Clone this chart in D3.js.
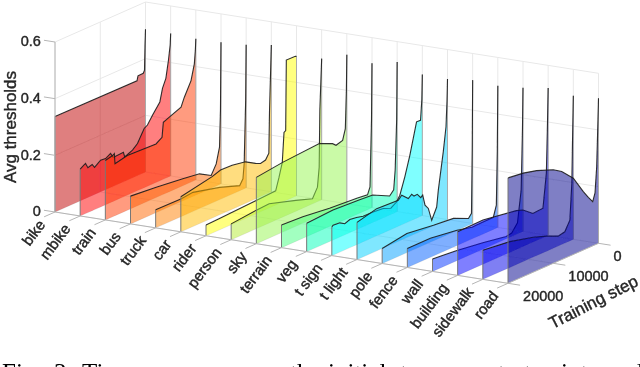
<!DOCTYPE html>
<html>
<head>
<meta charset="utf-8">
<script src="https://cdn.jsdelivr.net/npm/d3@7"></script>
<style>
    html, body { margin: 0; padding: 0; background: #fff; overflow: hidden; }
    svg { display: block; }
    text { font-family: "Liberation Sans", Arial, sans-serif; fill: #262626; stroke: #262626; stroke-width: 0.4px; }
    .caption { font-family: "Liberation Serif", serif; font-size: 25px; fill: #000; stroke: none; }
</style>
</head>
<body>
<div id="app"></div>
<script>
const categories = ["bike", "mbike", "train", "bus", "truck", "car", "rider", "person", "sky", "terrain",
    "veg", "t sign", "t light", "pole", "fence", "wall", "building", "sidewalk", "road"];
const colors = ["#bf0000", "#ff0008", "#ff3700", "#ff6600", "#ff8000", "#ffbb00", "#ffff00", "#b4eb32", "#96f550",
    "#46ff82", "#00ffb9", "#00ffff", "#00d0ff", "#00a0ff", "#0060ff", "#0030ff", "#0000ff", "#0000e8", "#00008c"];
const valueTicks = [0, 0.2, 0.4, 0.6];
const stepTicks = [0, 10000, 20000];

// [training step, avg threshold]
const bike = [[20000, .337], [1880, .335], [1660, .351], [490, .352], [220, .361], [110, .45], [0, .504]];
const mbike = [[20000, .165], [18820, .177], [18290, .158], [17350, .163], [16820, .149], [15490, .165], [14380, .163],
    [13270, .173], [12730, .156], [12380, .155], [10440, .157], [10160, .139], [8440, .151], [7330, .166], [5860, .209],
    [5130, .216], [4020, .243], [2390, .278], [1810, .322], [1060, .352], [490, .412], [110, .463], [0, .503]];
const train = [[20000, .21], [18390, .216], [18010, .22], [17860, .183], [15730, .191], [15140, .193], [8800, .189],
    [7470, .203], [7180, .254], [5860, .263], [3270, .28], [2540, .31], [1060, .358], [330, .412], [100, .46], [0, .498]];
const bus = [[20000, .098], [14320, .089], [8440, .078], [4750, .069], [2170, .045], [1060, .078], [330, .132], [120, .26], [0, .5]];
const truck = [[20000, .064], [14320, .063], [11760, .067], [5860, .043], [1440, .018], [710, .037], [440, .089], [110, .31], [0, .505]];
const car = [[20000, .124], [13080, .146], [11230, .156], [8660, .155], [5700, .146], [3490, .125], [2390, .117], [1280, .121],
    [550, .14], [400, .29], [0, .518]];
const rider = [[20000, .038], [17130, .04], [9020, .046], [4600, .05], [3870, .092], [3140, .14], [2760, .243], [2390, .247],
    [2250, .495], [260, .494], [0, .492]];
const person = [[20000, .056], [14540, .065], [11600, .068], [5700, .038], [2030, .018], [930, .051], [550, .119], [400, .32], [0, .498]];
const sky = [[20000, .234], [14190, .246], [6080, .255], [3140, .234], [2390, .223], [930, .23], [330, .267], [100, .4], [0, .526]];
const terrain = [[20000, .08], [15290, .076], [9390, .064], [3200, .057], [990, .052], [440, .076], [110, .31], [0, .51]];
const veg = [[20000, .1], [14190, .106], [8290, .1], [5410, .097], [1660, .067], [770, .082], [440, .15], [110, .326], [0, .528]];
const tSign = [[20000, .101], [19710, .105], [18230, .103], [17130, .092], [16020, .099], [14540, .096], [13080, .09], [10870, .089],
    [8660, .086], [6960, .075], [5700, .088], [4970, .107], [3870, .164], [2760, .232], [1280, .34], [400, .339], [110, .41], [0, .498]];
const tLight = [[20000, .131], [15650, .149], [10870, .145], [10120, .157], [8660, .135], [7910, .145], [7400, .135], [6670, .136],
    [5920, .119], [5480, .125], [4970, .086], [4240, .069], [3490, .022], [2390, .061], [2030, .118], [930, .246], [330, .33], [110, .42], [0, .496]];
const pole = [[20000, .053], [14540, .067], [8660, .055], [4240, .048], [930, .024], [260, .038], [100, .26], [0, .506]];
const fence = [[20000, .067], [14920, .067], [9020, .054], [5700, .041], [3870, .042], [990, .043], [330, .081], [120, .27], [0, .5]];
const wall = [[20000, .044], [14760, .036], [8880, .023], [3710, .008], [2500, .012], [1220, .039], [400, .15], [120, .36], [0, .507]];
const building = [[20000, .154], [14410, .156], [7030, .137], [5570, .129], [3360, .101], [1150, .104], [400, .222], [180, .375], [0, .52]];
const sidewalk = [[20000, .103], [14030, .091], [8880, .07], [5900, .053], [3360, .035], [1880, .04], [770, .073], [330, .2], [180, .35], [0, .507]];
const road = [[20000, .372], [16620, .365], [13660, .353], [9990, .33], [8130, .311], [5570, .269], [3360, .206], [2250, .178],
    [1280, .156], [770, .183], [400, .273], [180, .4], [0, .512]];
const seriesList = [bike, mbike, train, bus, truck, car, rider, person, sky, terrain, veg, tSign, tLight, pole, fence, wall, building, sidewalk, road];

const captionWords = ["Fig.", "3.", "Time", "the", "initial", "to", "start", "point", "and"];
const captionX = [2, 54, 82, 290, 328, 400, 488, 536, 607];

const width = 640;
const height = 367;
const lastCat = categories.length - 1;

const root = d3.select("#app").append("svg")
    .attr("width", width)
    .attr("height", height);

// the reference is a soft upscaled bitmap, a little blur gets closer to it
root.append("defs").append("filter")
    .attr("id", "soft")
    .attr("x", 0).attr("y", 0).attr("width", 1).attr("height", 1)
    .attr("filterUnits", "userSpaceOnUse")
    .attr("width", width).attr("height", height)
    .append("feGaussianBlur")
    .attr("stdDeviation", 0.45);
const svg = root.append("g").attr("filter", "url(#soft)");

// oblique projection: category and step run across the floor, value goes straight up
const catX = d3.scaleLinear().domain([0, lastCat]).range([55, 508]);
const catY = d3.scaleLinear().domain([0, lastCat]).range([212, 283.3]);
const stepX = d3.scaleLinear().domain([0, 20000]).range([90.5, 0]);
const stepY = d3.scaleLinear().domain([0, 20000]).range([-40, 0]);
const valueY = d3.scaleLinear().domain([0, 0.6]).range([0, -170]);

function px(cat, step) {
    return catX(cat) + stepX(step);
}

function py(cat, step, value) {
    return catY(cat) + stepY(step) + valueY(value);
}

function seg(g, a, b, color, w) {
    g.append("line")
        .attr("x1", px(a[0], a[1])).attr("y1", py(a[0], a[1], a[2]))
        .attr("x2", px(b[0], b[1])).attr("y2", py(b[0], b[1], b[2]))
        .attr("stroke", color)
        .attr("stroke-width", w);
}

addGrid();
addWalls();
addAxes();
addCaption();

function addGrid() {
    const g = svg.append("g");
    const gridColor = "#e8e8e8";
    valueTicks.slice(1).forEach(v => {
        seg(g, [0, 20000, v], [0, 0, v], gridColor, 1);
        seg(g, [0, 0, v], [lastCat, 0, v], gridColor, 1);
    });
    categories.forEach((c, i) => {
        seg(g, [i, 0, 0], [i, 0, 0.6], gridColor, 1);
        seg(g, [i, 20000, 0], [i, 0, 0], gridColor, 1);
    });
    stepTicks.forEach(s => {
        seg(g, [0, s, 0], [0, s, 0.6], gridColor, 1);
        seg(g, [0, s, 0], [lastCat, s, 0], gridColor, 1);
    });
}

function addWalls() {
    const g = svg.append("g");
    seriesList.forEach((rows, i) => {
        const area = d3.area()
            .x(d => px(i, d[0]))
            .y0(d => py(i, d[0], 0))
            .y1(d => py(i, d[0], d[1]));
        const line = d3.line()
            .x(d => px(i, d[0]))
            .y(d => py(i, d[0], d[1]));
        g.append("path")
            .attr("d", area(rows))
            .attr("fill", colors[i])
            .attr("fill-opacity", 0.5);
        seg(g, [i, 20000, 0], [i, 20000, rows[0][1]], "#777", 1);
        seg(g, [i, 0, 0], [i, 0, rows[rows.length - 1][1]], "#aaa", 1);
        g.append("path")
            .attr("d", line(rows))
            .attr("fill", "none")
            .attr("stroke", "#1c1c1c")
            .attr("stroke-width", 1.1)
            .attr("stroke-opacity", 0.9);
    });
}

function addAxes() {
    const g = svg.append("g");
    const axisColor = "#b5b5b5";
    seg(g, [0, 20000, 0], [0, 20000, 0.6], axisColor, 1);
    seg(g, [0, 20000, 0], [lastCat, 20000, 0], axisColor, 1);
    seg(g, [lastCat, 20000, 0], [lastCat, 0, 0], axisColor, 1);

    valueTicks.forEach(v => {
        seg(g, [-0.44, 20000, v], [0, 20000, v], axisColor, 1);
        g.append("text")
            .attr("x", px(-0.44, 20000) - 3)
            .attr("y", py(-0.44, 20000, v) + 6)
            .attr("text-anchor", "end")
            .attr("font-size", 14.5)
            .text(v);
    });

    categories.forEach((c, i) => {
        seg(g, [i, 22400, 0], [i, 20000, 0], axisColor, 1);
        const x = px(i, 22400) + 2;
        const y = py(i, 22400, 0) + 8;
        g.append("text")
            .attr("transform", `translate(${x},${y}) rotate(-53)`)
            .attr("text-anchor", "end")
            .attr("font-size", 15)
            .text(c);
    });

    stepTicks.forEach(s => {
        seg(g, [lastCat, s, 0], [lastCat + 0.48, s, 0], axisColor, 1);
        g.append("text")
            .attr("x", px(lastCat + 0.48, s) + 3)
            .attr("y", py(lastCat + 0.48, s, 0) + 15.5)
            .attr("text-anchor", "start")
            .attr("font-size", 14.5)
            .text(s);
    });

    g.append("text")
        .attr("transform", "translate(16,127) rotate(-90)")
        .attr("text-anchor", "middle")
        .attr("font-size", 17)
        .text("Avg thresholds");
    g.append("text")
        .attr("transform", "translate(596,307) rotate(-27)")
        .attr("text-anchor", "middle")
        .attr("font-size", 17)
        .text("Training step");
}

function addCaption() {
    svg.append("g").selectAll("text")
        .data(captionWords)
        .join("text")
        .attr("class", "caption")
        .attr("x", (d, i) => captionX[i])
        .attr("y", 381)
        .text(d => d);
}
</script>
</body>
</html>
